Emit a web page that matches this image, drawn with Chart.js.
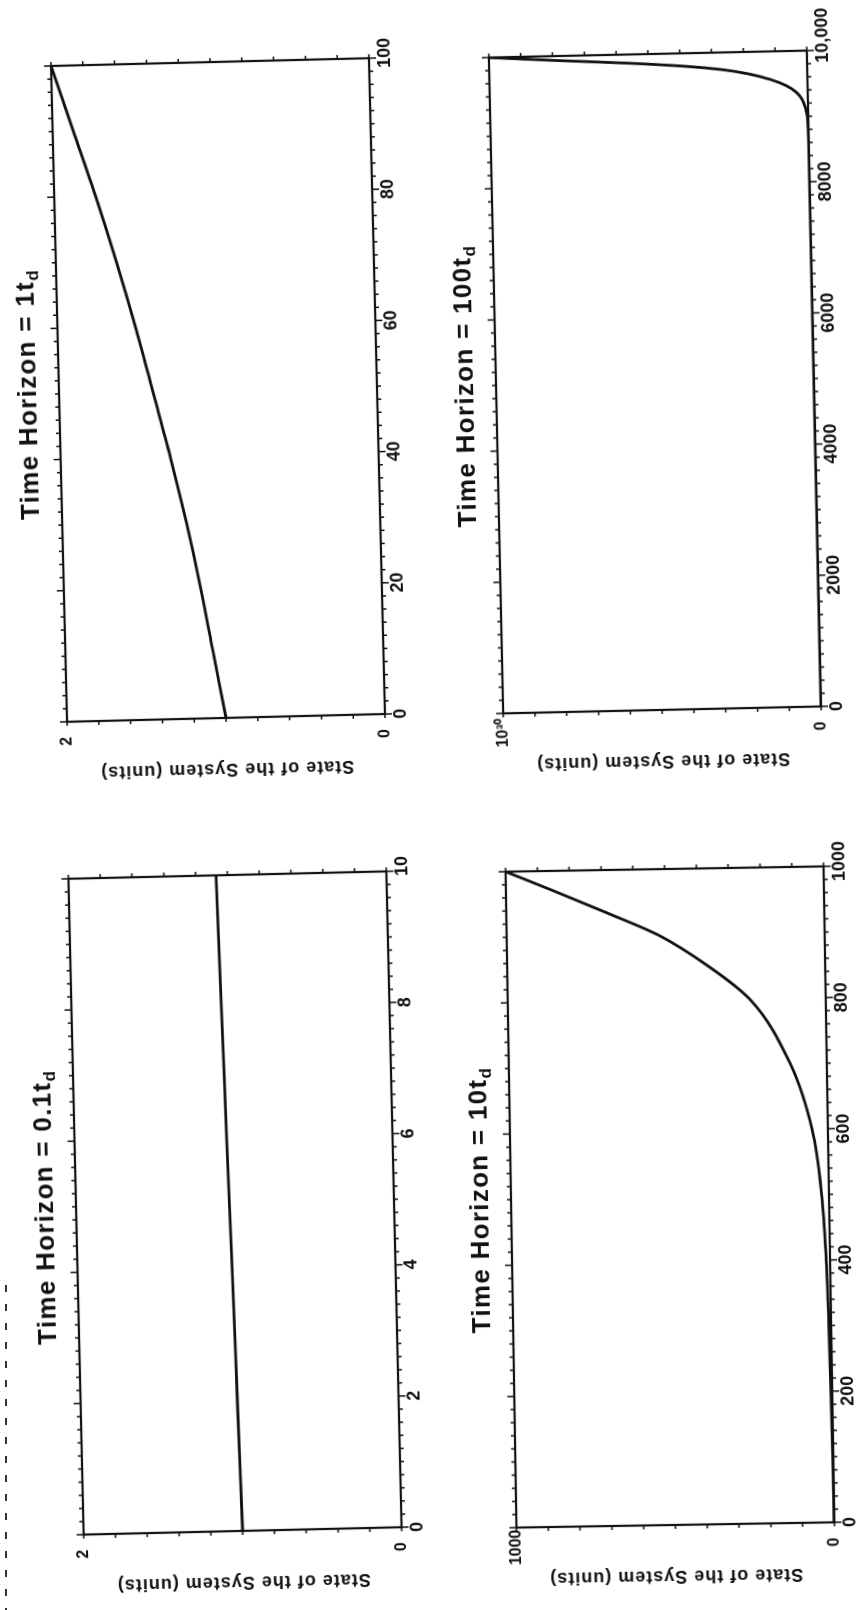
<!DOCTYPE html>
<html>
<head>
<meta charset="utf-8">
<title>Time horizon and exponential growth</title>
<script src="https://cdn.jsdelivr.net/npm/chart.js@4.4.1/dist/chart.umd.min.js"></script>
<style>
  html, body { margin: 0; padding: 0; background: #fff; }
  #page { position: relative; width: 858px; height: 1610px; overflow: hidden; background: #fff; }
  .panel { position: absolute; width: 836px; height: 458px; transform-origin: 50% 50%; }
  .panel canvas { position: absolute; left: 0; top: 0; }
  .ttl { position: absolute; left: 0; top: 25px; width: 836px; text-align: center; color: #111;
         font: bold 26px/26px "Liberation Sans", Arial, sans-serif; letter-spacing: 1.3px; white-space: nowrap; }
  .ttl sub { font-size: 17px; line-height: 0; vertical-align: -5px; }
  .ytl { position: absolute; left: 38px; top: 229px; transform: translate(-50%, -50%) rotate(-90deg); color: #111;
         font: bold 18px/18px "Liberation Sans", Arial, sans-serif; letter-spacing: 1px; white-space: nowrap; }
  /* dotted margin mark at the left edge of the scan */
  #edge { position: absolute; left: 5px; top: 1285px; width: 2px; height: 325px;
          background: repeating-linear-gradient(to bottom, #333 0 7px, transparent 7px 19px); }
</style>
</head>
<body>
<div id="page"><div id="edge"></div></div>
<script>
// Time Horizon = 1 t_d
const aTime = [0, 10, 20, 30, 40, 50, 60, 70, 80, 90, 100];
const aState = [1.00, 1.07, 1.14, 1.22, 1.31, 1.41, 1.51, 1.62, 1.74, 1.87, 2.00];
const aTimeLabels = ['0', '20', '40', '60', '80', '100'];
const aStateLabels = ['0', '2'];

// Time Horizon = 100 t_d
const bTime = [0, 2000, 4000, 6000, 8000, 9000, 9100, 9250, 9370, 9475, 9570, 9665, 9740, 9800, 9870, 9933, 10000];
const bState = [0, 0, 0, 0, 0, 0.003e30, 0.007e30, 0.017e30, 0.036e30, 0.068e30, 0.115e30, 0.185e30, 0.27e30, 0.38e30, 0.57e30, 0.79e30, 1.0e30];
const bTimeLabels = ['0', '2000', '4000', '6000', '8000', '10,000'];
const bStateLabels = ['0', '10³⁰'];

// Time Horizon = 0.1 t_d
const cTime = [0, 2, 4, 6, 8, 10];
const cState = [1.000, 1.014, 1.028, 1.043, 1.057, 1.072];
const cTimeLabels = ['0', '2', '4', '6', '8', '10'];
const cStateLabels = ['0', '2'];

// Time Horizon = 10 t_d
const dTime = [0, 100, 200, 300, 400, 500, 600, 700, 800, 850, 900, 935, 970, 1000];
const dState = [1, 2, 4, 7, 12, 23, 50, 115, 240, 365, 525, 685, 852, 1000];
const dTimeLabels = ['0', '200', '400', '600', '800', '1000'];
const dStateLabels = ['0', '1000'];

const INK = '#111';
const FONT = '"Liberation Sans", Arial, sans-serif';
const PW = 836, PH = 458;       // panel box before it is turned
const PAD_X = 90, PAD_Y = 70;   // room round the plot

// the page is printed sideways and the scan is a little skewed
const panels = [
  { horizon: '1',   time: aTime, state: aState, tLabels: aTimeLabels, sLabels: aStateLabels, tMax: 100,   sMax: 2,    cx: 218, cy: 390,  tilt: 1.4,  yPad: 15, endShift: 1 },
  { horizon: '100', time: bTime, state: bState, tLabels: bTimeLabels, sLabels: bStateLabels, tMax: 10000, sMax: 1e30, cx: 655, cy: 382,  tilt: 1.25, yPad: 5,  endShift: 3 },
  { horizon: '0.1', time: cTime, state: cState, tLabels: cTimeLabels, sLabels: cStateLabels, tMax: 10,    sMax: 2,    cx: 235, cy: 1203, tilt: 1.33, yPad: 15, endShift: 1 },
  { horizon: '10',  time: dTime, state: dState, tLabels: dTimeLabels, sLabels: dStateLabels, tMax: 1000,  sMax: 1000, cx: 670, cy: 1197, tilt: 0.95, yPad: 2,  endShift: 1 }
];

// even ticks: 50 steps along time, 10 along state
function evenTicks(n) {
  return function (scale) {
    const step = (scale.max - scale.min) / n;
    const list = [];
    for (let i = 0; i <= n; i++) list.push({ value: scale.min + i * step });
    scale.ticks = list;
  };
}

// box round the plot, with small ticks pointing out on all four sides
const frameTicks = {
  id: 'frameTicks',
  afterDraw(chart) {
    const { ctx, chartArea: a } = chart;
    const x = chart.scales.x, y = chart.scales.y;
    ctx.save();
    ctx.strokeStyle = INK;
    ctx.lineWidth = 2.2;
    ctx.strokeRect(a.left, a.top, a.right - a.left, a.bottom - a.top);
    ctx.lineWidth = 1.5;
    ctx.beginPath();
    x.ticks.forEach(function (t, i) {
      const px = x.getPixelForValue(t.value);
      const len = i % 10 === 0 ? 7 : 4;
      ctx.moveTo(px, a.bottom); ctx.lineTo(px, a.bottom + len);
      ctx.moveTo(px, a.top); ctx.lineTo(px, a.top - len);
    });
    y.ticks.forEach(function (t) {
      const py = y.getPixelForValue(t.value);
      ctx.moveTo(a.left, py); ctx.lineTo(a.left - 4, py);
      ctx.moveTo(a.right, py); ctx.lineTo(a.right + 4, py);
    });
    ctx.stroke();
    ctx.restore();
  }
};

const page = document.getElementById('page');

panels.forEach(function (p) {
  const div = document.createElement('div');
  div.className = 'panel';
  div.style.left = (p.cx - PW / 2) + 'px';
  div.style.top = (p.cy - PH / 2) + 'px';
  div.style.transform = 'rotate(' + (-90 - p.tilt) + 'deg)';
  div.innerHTML = '<canvas width="' + PW + '" height="' + PH + '"></canvas>' +
    '<div class="ttl">Time Horizon = ' + p.horizon + 't<sub>d</sub></div>' +
    '<div class="ytl">State of the System (units)</div>';
  page.appendChild(div);

  new Chart(div.querySelector('canvas'), {
    type: 'line',
    data: {
      datasets: [{
        data: p.time.map(function (t, i) { return { x: t, y: p.state[i] }; }),
        borderColor: INK,
        borderWidth: 2.8,
        pointRadius: 0,
        cubicInterpolationMode: 'monotone',
        fill: false
      }]
    },
    options: {
      responsive: false,
      animation: false,
      events: [],
      layout: { padding: { left: 0, top: PAD_Y, right: PAD_X, bottom: 0 } },
      plugins: { legend: { display: false }, tooltip: { enabled: false } },
      scales: {
        x: {
          type: 'linear',
          min: 0,
          max: p.tMax,
          afterBuildTicks: evenTicks(50),
          afterFit: function (s) { s.height = PAD_Y; },
          grid: { display: false, drawTicks: false },
          border: { display: false },
          ticks: {
            autoSkip: false,
            maxRotation: 0,
            padding: 5,
            color: INK,
            font: { family: FONT, size: 18, weight: 'bold' },
            callback: function (v, i) {
              if (i % 10 !== 0) return '';
              const lab = p.tLabels[i / 10];
              // the last label sits a little past its tick in the print
              return i === 50 ? '\u2007'.repeat(p.endShift) + lab : lab;
            }
          }
        },
        y: {
          min: 0,
          max: p.sMax,
          afterBuildTicks: evenTicks(10),
          afterFit: function (s) { s.width = PAD_X; },
          grid: { display: false, drawTicks: false },
          border: { display: false },
          ticks: {
            autoSkip: false,
            crossAlign: 'center',
            padding: p.yPad,
            color: INK,
            font: { family: FONT, size: 16, weight: 'bold' },
            callback: function (v, i) { return i === 0 ? p.sLabels[0] : (i === 10 ? p.sLabels[1] : ''); }
          }
        }
      }
    },
    plugins: [frameTicks]
  });
});
</script>
</body>
</html>
